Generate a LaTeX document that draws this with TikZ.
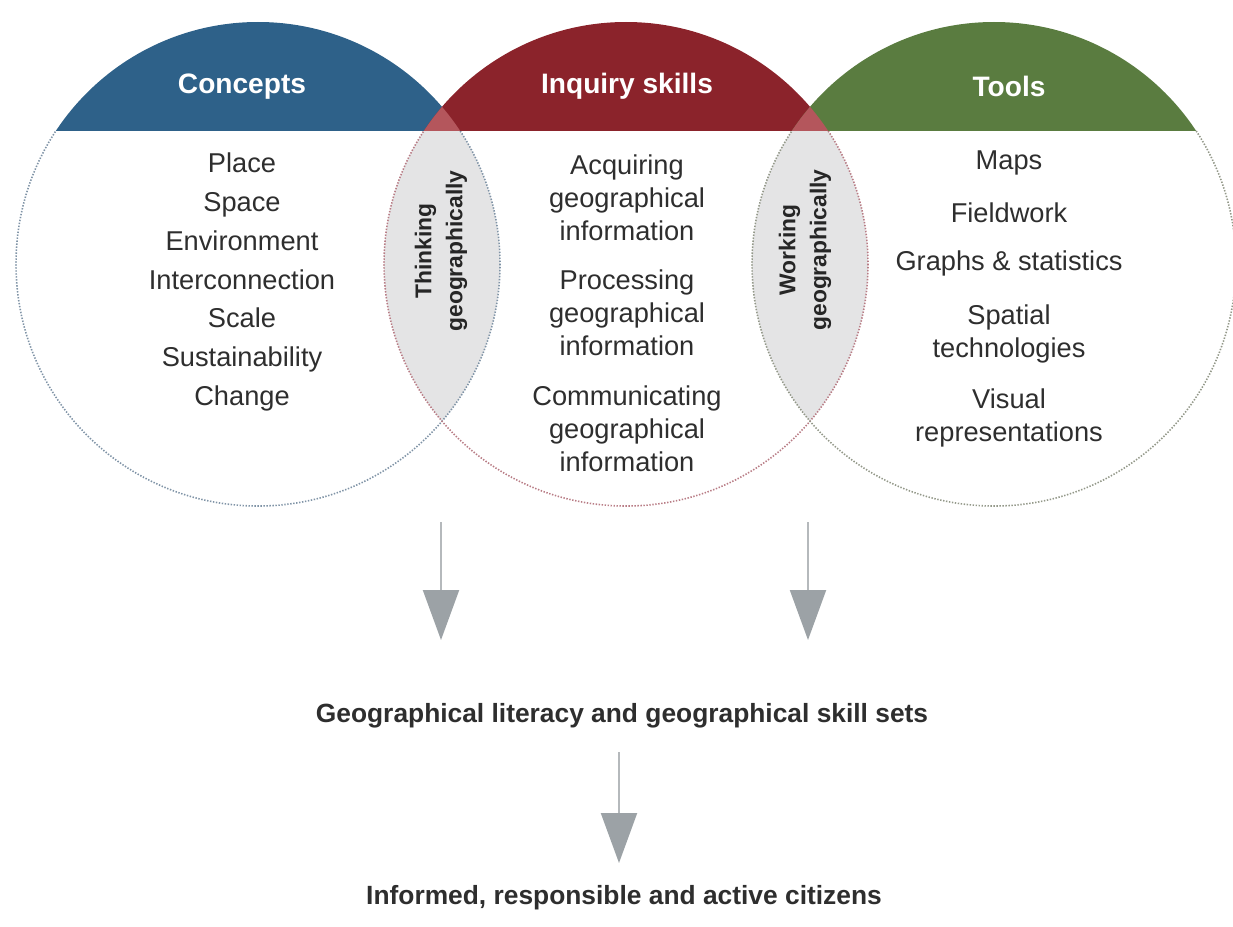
\documentclass[tikz,border=0pt]{standalone}
\usepackage{fontspec}
\setmainfont{Liberation Sans}
\usetikzlibrary{arrows.meta}
\definecolor{conceptblue}{HTML}{2E6189}
\definecolor{inquiryred}{HTML}{8B232B}
\definecolor{toolgreen}{HTML}{5A7C40}
\definecolor{overlapred}{HTML}{B4565C}
\definecolor{lensgrey}{HTML}{E4E4E5}
\definecolor{rimblue}{HTML}{7F93A6}
\definecolor{rimred}{HTML}{B87C85}
\definecolor{rimgreen}{HTML}{939889}
\definecolor{bodygrey}{HTML}{2E2E2E}
\definecolor{arrowline}{HTML}{B5B9BC}
\definecolor{arrowhead}{HTML}{9CA2A6}
\begin{document}
\begin{tikzpicture}[x=0.02cm,y=-0.02cm]
        \tikzset{
            heading/.style={
                    text=white,
                    font=\fontsize{16}{19}\selectfont\bfseries,
                },
            itemtext/.style={
                    text=bodygrey,
                    align=center,
                    font=\fontsize{15.5}{18.7}\selectfont,
                },
            lenslabel/.style={
                    rotate=90,
                    align=center,
                    text=black!85,
                    font=\fontsize{13}{17.6}\selectfont\bfseries,
                },
            outcome/.style={
                    text=bodygrey,
                    font=\fontsize{15}{18}\selectfont\bfseries,
                },
            rim/.style={line width=0.9pt, dash pattern=on 0.8pt off 0.9pt},
            flow/.style={draw=arrowline, line width=1.2pt,
                    -{Triangle[width=0.72cm, length=1.0cm, color=arrowhead]}},
        }
        \useasboundingbox (0,0) rectangle (1233,926);
        \coordinate (cL) at (258,264);
        \coordinate (cM) at (626,264);
        \coordinate (cR) at (994,264);
        % grey lenses below the caps
        \begin{scope}
            \clip (0,130) rectangle (1233,926);
            \begin{scope}
                \clip (cL) circle (242);
                \fill[lensgrey] (cM) circle (242);
            \end{scope}
            \begin{scope}
                \clip (cM) circle (242);
                \fill[lensgrey] (cR) circle (242);
            \end{scope}
            \draw[rim, rimblue] (cL) circle (242);
            \draw[rim, rimred] (cM) circle (242);
            \draw[rim, rimgreen] (cR) circle (242);
        \end{scope}
        % coloured caps
        \begin{scope}
            \clip (0,0) rectangle (1233,130);
            \fill[conceptblue] (cL) circle (242);
            \fill[inquiryred] (cM) circle (242);
            \fill[toolgreen] (cR) circle (242);
            \begin{scope}
                \clip (cL) circle (242);
                \fill[overlapred] (cM) circle (242);
            \end{scope}
            \begin{scope}
                \clip (cM) circle (242);
                \fill[overlapred] (cR) circle (242);
            \end{scope}
        \end{scope}
        \node[heading] (concepts) at (242,87) {Concepts};
        \node[heading] (inquiry) at (627,86) {Inquiry skills};
        \node[heading] (tools) at (1009,86) {Tools};
        \node[itemtext, font=\fontsize{15.5}{22.1}\selectfont] (conceptlist) at (242,282)
            {Place\\Space\\Environment\\Interconnection\\Scale\\Sustainability\\Change};
        \node[itemtext] (acquiring) at (627,198) {Acquiring\\geographical\\information};
        \node[itemtext] (processing) at (627,313) {Processing\\geographical\\information};
        \node[itemtext] (communicating) at (627,429) {Communicating\\geographical\\information};
        \node[itemtext] (maps) at (1009,163) {Maps};
        \node[itemtext] (fieldwork) at (1009,213) {Fieldwork};
        \node[itemtext] (graphs) at (1009,263) {Graphs \& statistics};
        \node[itemtext] (spatial) at (1009,334) {Spatial\\technologies};
        \node[itemtext] (visual) at (1009,418) {Visual\\representations};
        \node[lenslabel] (thinking) at (441,251) {Thinking\\geographically};
        \node[lenslabel] (working) at (805,250) {Working\\geographically};
        \node[outcome] (literacy) at (622,716) {Geographical literacy and geographical skill sets};
        \node[outcome] (citizens) at (624,898) {Informed, responsible and active citizens};
        \coordinate (thinkfoot) at (441,522);
        \coordinate (thinktip) at (441,640);
        \coordinate (workfoot) at (808,522);
        \coordinate (worktip) at (808,640);
        \coordinate (skillfoot) at (619,752);
        \coordinate (skilltip) at (619,863);
        \draw[flow] (thinkfoot) -- (thinktip);
        \draw[flow] (workfoot) -- (worktip);
        \draw[flow] (skillfoot) -- (skilltip);
    \end{tikzpicture}
\end{document}
